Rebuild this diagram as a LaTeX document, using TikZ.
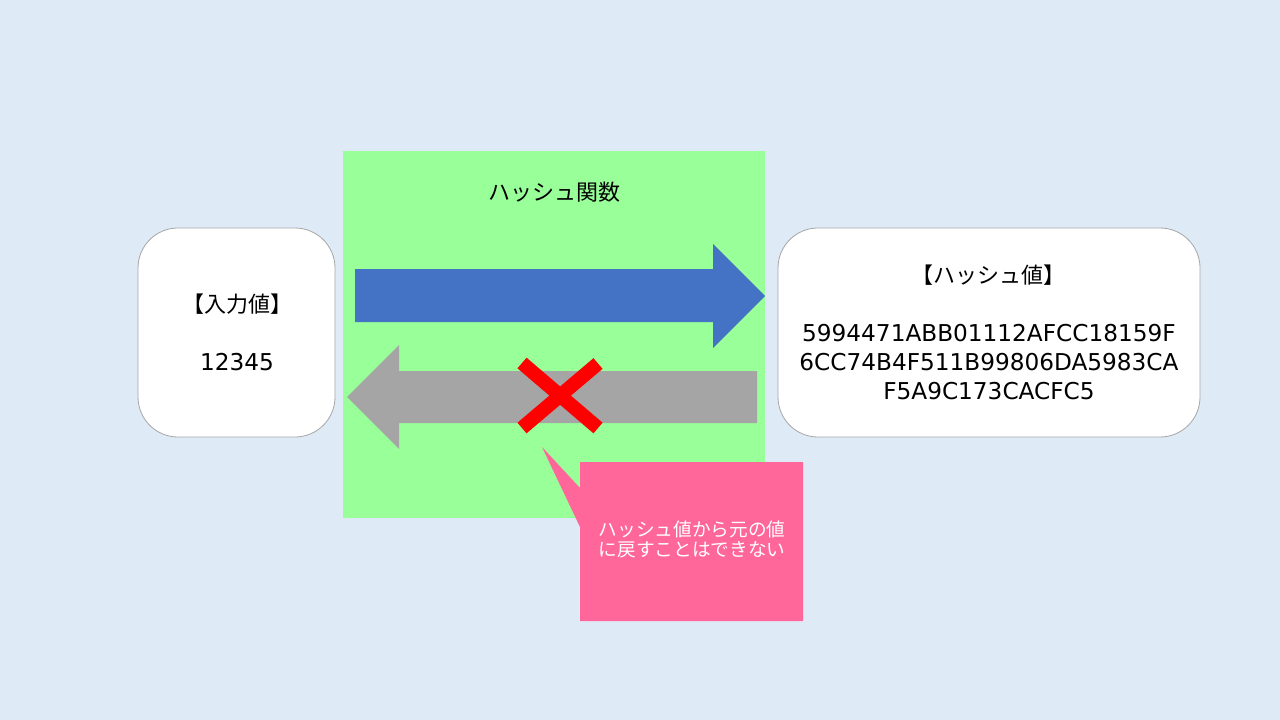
\documentclass[tikz,border=0pt]{standalone}
\usepackage{fontspec}
\setmainfont{DejaVu Sans}
\newfontfamily\jp{Noto Sans CJK JP}
\definecolor{bgblue}{HTML}{DEEAF6}
\definecolor{hashgreen}{HTML}{99FF99}
\definecolor{arrowblue}{HTML}{4472C4}
\definecolor{arrowgray}{HTML}{A5A5A5}
\definecolor{calloutpink}{HTML}{FF6699}
\definecolor{boxborder}{HTML}{A6A6A6}
\tikzset{
  valbox/.style={draw=boxborder, line width=0.6pt, fill=white, rounded corners=30pt},
  jplabel/.style={font=\jp\fontsize{16.5}{19}\selectfont, inner sep=0pt},
  hexlabel/.style={font=\fontsize{17.4}{22}\selectfont, align=center, inner sep=0pt},
}
\begin{document}
\begin{tikzpicture}[x=0.75pt,y=-0.75pt]
\useasboundingbox (0,0) rectangle (1280,720);
\fill[bgblue] (0,0) rectangle (1280,720);
% hash function area
\fill[hashgreen] (343,151) rectangle (765,518);
\node[font=\jp\fontsize{16.5}{20}\selectfont, inner sep=0pt] (title) at (554,192) {ハッシュ関数};
% value boxes
\draw[valbox] (138,228) rectangle (335,437);
\draw[valbox] (778,228) rectangle (1200,437);
\node[jplabel] (inlabel) at (237,304) {【入力値】};
\node[hexlabel] (inval) at (237,362) {12345};
\node[jplabel] (outlabel) at (988,275) {【ハッシュ値】};
\node[hexlabel] (outval) at (989,362) {5994471ABB01112AFCC18159F\\6CC74B4F511B99806DA5983CA\\F5A9C173CACFC5};
% forward arrow
\fill[arrowblue] (355,269) -- (713,269) -- (713,244) -- (765,296) -- (713,348) -- (713,322) -- (355,322) -- cycle;
% backward arrow
\fill[arrowgray] (757,371) -- (399,371) -- (399,345) -- (347,397) -- (399,449) -- (399,423) -- (757,423) -- cycle;
% red cross
\draw[red, line width=10.5pt] (522,363) -- (598,428);
\draw[red, line width=10.5pt] (598,363.5) -- (522,428);
% callout
\fill[calloutpink] (580,462) -- (803,462) -- (803,621) -- (580,621) -- (580,527) -- (542,447) -- (580,488) -- cycle;
\node[font=\jp\fontsize{14}{15}\selectfont, text=white, align=center, inner sep=0pt] (note) at (692,539) {ハッシュ値から元の値\\に戻すことはできない};
\end{tikzpicture}
\end{document}
